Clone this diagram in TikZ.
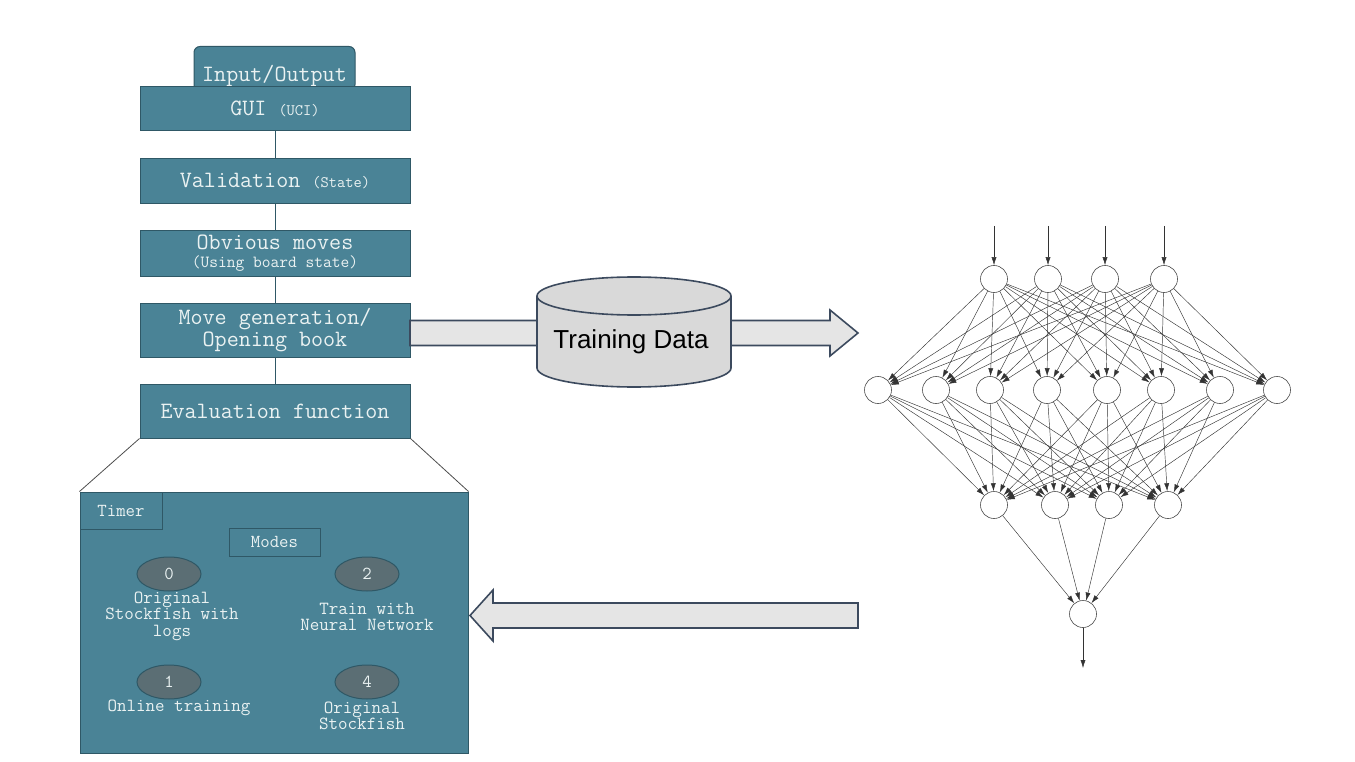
\documentclass[tikz,border=0pt]{standalone}
\usepackage{fontspec}
\newfontfamily\sansf{Liberation Sans}
\usetikzlibrary{arrows.meta,shapes.geometric}
\definecolor{teal1}{HTML}{4A8396}
\definecolor{tealb}{HTML}{2F5866}
\definecolor{ellc}{HTML}{5B6E74}
\definecolor{txt}{HTML}{EAF2F2}
\definecolor{arrb}{HTML}{3C4A5E}
\newcommand{\sml}{\fontsize{16}{18}\selectfont}
\begin{document}
\begin{tikzpicture}[x=1pt,y=-1pt,font=\ttfamily,
  box/.style={draw=tealb,fill=teal1,line width=1pt,text=txt,align=center,font=\ttfamily\fontsize{23.4}{25}\selectfont},
  small/.style={font=\ttfamily\fontsize{18.3}{20}\selectfont},
  mode/.style={ellipse,draw=tealb,fill=ellc,line width=1pt,minimum width=64pt,minimum height=34pt,text=txt,font=\ttfamily\fontsize{18.3}{20}\selectfont},
  mtxt/.style={text=txt,align=center,font=\ttfamily\fontsize{18.5}{16.5}\selectfont,inner sep=0pt},
  neu/.style={circle,draw=black!70,fill=white,minimum size=27pt,inner sep=0pt,line width=0.6pt},
  syn/.style={-{Latex[length=8pt,width=5pt]},line width=0.45pt,black!80},
  fat/.style={draw=arrb,fill=black!10,line width=1.6pt}]
\useasboundingbox (0,0) rectangle (1355,762);
% tab
\node[box,rounded corners=6pt,minimum width=161pt,minimum height=44pt,anchor=north] (io) at (274.5,46) {};
\node[text=txt,font=\ttfamily\fontsize{23.4}{25}\selectfont] (iot) at (274.5,76) {Input/Output};
\node[box,minimum width=270pt,minimum height=44pt] (gui) at (275,109) {GUI {\sml(UCI)}};
\node[box,minimum width=270pt,minimum height=45pt] (val) at (275,181.5) {Validation {\sml(State)}};
\node[box,minimum width=270pt,minimum height=45pt,font=\ttfamily\fontsize{23.4}{18}\selectfont] (obv) at (275,253.5) {Obvious moves\\{\fontsize{17}{15}\selectfont(Using board state)}};
\node[box,minimum width=270pt,minimum height=54pt,font=\ttfamily\fontsize{23.4}{22}\selectfont] (mov) at (275,330) {Move generation/\\ Opening book};
\node[box,minimum width=270pt,minimum height=54pt] (ev) at (275,411) {Evaluation function};
\draw[tealb,line width=1pt] (gui) -- (val) (val) -- (obv) (obv) -- (mov) (mov) -- (ev);
% panel
\node[box,minimum width=388pt,minimum height=261pt] (pan) at (274,622.5) {};
\draw[black!70,line width=0.8pt] (ev.south west) -- (pan.north west) (ev.south east) -- (pan.north east);
\node[box,small,minimum width=82pt,minimum height=37pt,anchor=north west] (tim) at (pan.north west) {Timer};
\node[box,small,minimum width=91pt,minimum height=28pt] (mod) at (274.5,542) {Modes};
\node[mode] (m0) at (169,574) {0};
\node[mode] (m2) at (367,574) {2};
\node[mode] (m1) at (169,682) {1};
\node[mode] (m4) at (367,682) {4};
\node[mtxt] (t0) at (172,616) {Original\\Stockfish with\\logs};
\node[mtxt] (t2) at (367,617) {Train with\\Neural Network};
\node[mtxt] (t1) at (179,708) {Online training};
\node[mtxt] (t4) at (362,716) {Original\\Stockfish};
% right arrow
\draw[fat] (410,320.5) -- (830,320.5) -- (830,310) -- (858,333) -- (830,356) -- (830,345.5) -- (410,345.5) -- cycle;
% cylinder
\draw[arrb,fill=black!15,line width=1.6pt] (537,296) -- (537,368) arc[start angle=180,end angle=0,x radius=97,y radius=19] -- (731,296) arc[start angle=0,end angle=-180,x radius=97,y radius=19] -- cycle;
\draw[arrb,line width=1.6pt] (537,296) arc[start angle=180,end angle=0,x radius=97,y radius=19];
\node[font=\sansf\fontsize{26}{28}\selectfont] (td) at (631,342) {Training Data};
% left arrow
\draw[fat] (858,603) -- (493,603) -- (493,590) -- (470,615.5) -- (493,641) -- (493,628) -- (858,628) -- cycle;
% network
\foreach \x [count=\i] in {994,1048,1105,1164} {
  \node[neu] (a\i) at (\x,279) {};
  \coordinate (in\i) at (\x,226);
  \draw[syn] (in\i) -- (a\i);
}
\foreach \x [count=\i] in {878,936,990,1047,1107,1161,1220,1277} \node[neu] (b\i) at (\x,390) {};
\foreach \x [count=\i] in {994,1055,1109,1168} \node[neu] (c\i) at (\x,505) {};
\node[neu] (o) at (1083,614) {};
\coordinate (out) at (1083,668);
\draw[syn] (o) -- (out);
\foreach \i in {1,...,4} \foreach \j in {1,...,8} \draw[syn] (a\i) -- (b\j);
\foreach \i in {1,...,8} \foreach \j in {1,...,4} \draw[syn] (b\i) -- (c\j);
\foreach \i in {1,...,4} \draw[syn] (c\i) -- (o);
\end{tikzpicture}
\end{document}
